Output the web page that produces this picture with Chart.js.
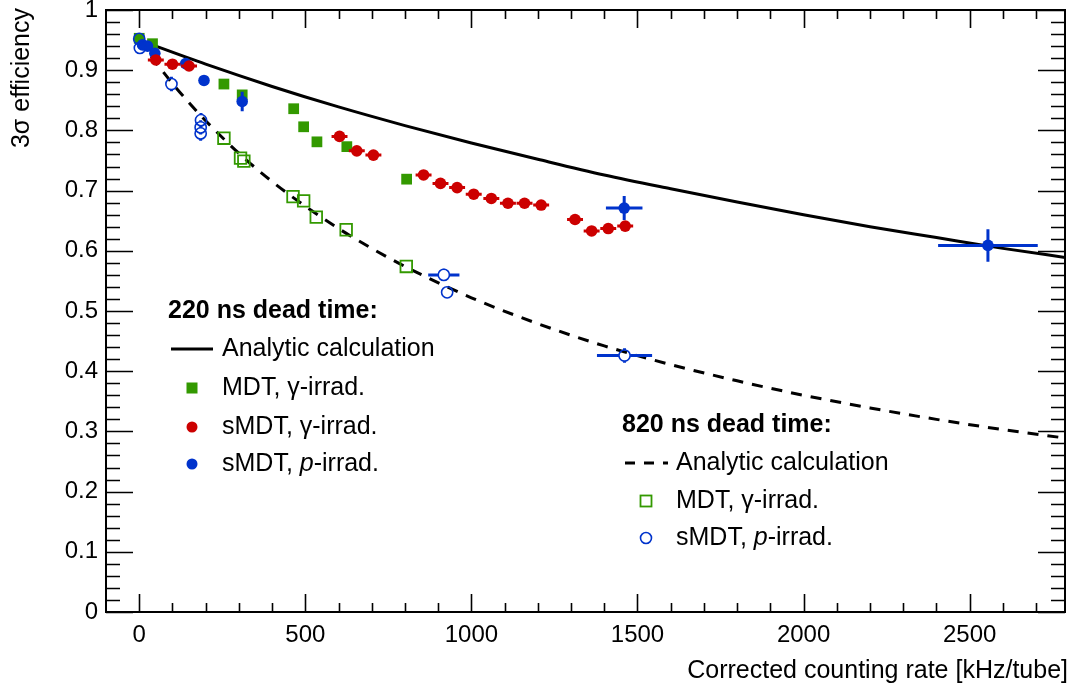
<!DOCTYPE html>
<html>
<head>
<meta charset="utf-8">
<title>3σ efficiency</title>
<script src="https://cdn.jsdelivr.net/npm/chart.js@4/dist/chart.umd.min.js"></script>
<style>
  html, body { margin: 0; padding: 0; background: #fff; }
  #wrap { width: 1075px; height: 693px; }
</style>
</head>
<body>
<div id="wrap"><canvas id="grafico" width="1075" height="693"></canvas></div>
<script>
// Ticks
const xTicks = [0, 500, 1000, 1500, 2000, 2500];
const yTicks = [0, 0.1, 0.2, 0.3, 0.4, 0.5, 0.6, 0.7, 0.8, 0.9, 1];

// Analytic calculation, 220 ns dead time
const calc220X = [0, 200, 400, 600, 800, 1000, 1200, 1400, 1600, 1800, 2000, 2200, 2400, 2600, 2800];
const calc220Y = [0.950, 0.910, 0.873, 0.839, 0.808, 0.779, 0.752, 0.726, 0.703, 0.681, 0.660, 0.640, 0.622, 0.604, 0.588];

// Analytic calculation, 820 ns dead time
const calc820X = [0, 50, 100, 150, 200, 300, 400, 500, 600, 700, 800, 1000, 1200, 1400, 1600, 1800, 2000, 2200, 2400, 2600, 2800];
const calc820Y = [0.950, 0.913, 0.878, 0.846, 0.816, 0.762, 0.715, 0.674, 0.637, 0.604, 0.574, 0.522, 0.479, 0.442, 0.411, 0.384, 0.360, 0.339, 0.320, 0.303, 0.288];

// 220 ns: MDT, gamma-irrad.
const mdtGammaX = [0, 40, 255, 310, 465, 495, 535, 625, 805];
const mdtGammaY = [0.953, 0.944, 0.877, 0.859, 0.836, 0.806, 0.781, 0.773, 0.719];

// 220 ns: sMDT, gamma-irrad.
const smdtGammaX = [50, 100, 150, 603, 655, 705, 856, 907, 957, 1007, 1060, 1110, 1160, 1210, 1312, 1362, 1412, 1463];
const smdtGammaY = [0.917, 0.910, 0.907, 0.790, 0.766, 0.759, 0.726, 0.712, 0.705, 0.694, 0.687, 0.679, 0.679, 0.676, 0.652, 0.633, 0.637, 0.641];
const smdtGammaXErr = [24, 24, 24, 24, 24, 24, 24, 24, 24, 24, 24, 24, 24, 24, 24, 24, 24, 24];

// 220 ns: sMDT, p-irrad.
const smdtProtonX = [10, 25, 47, 140, 195, 310, 1460, 2555];
const smdtProtonY = [0.942, 0.940, 0.928, 0.911, 0.883, 0.848, 0.671, 0.609];
const smdtProtonXErr = [0, 0, 0, 0, 0, 0, 55, 150];
const smdtProtonYErr = [0, 0, 0, 0, 0, 0.016, 0.020, 0.027];

// 820 ns: MDT, gamma-irrad.
const mdtGamma820X = [255, 305, 315, 463, 495, 533, 623, 804];
const mdtGamma820Y = [0.787, 0.754, 0.749, 0.690, 0.683, 0.656, 0.635, 0.574];

// 820 ns: sMDT, p-irrad.
const smdtProton820X = [0, 2, 97, 186, 185, 185, 917, 927, 1461];
const smdtProton820Y = [0.952, 0.937, 0.877, 0.817, 0.805, 0.795, 0.560, 0.531, 0.426];
const smdtProton820XErr = [0, 0, 0, 0, 0, 0, 47, 0, 83];
const smdtProton820YErr = [0, 0, 0.012, 0.012, 0.012, 0.012, 0.010, 0, 0.012];

const VERDE = "#339900";
const ROJO = "#cc0000";
const AZUL = "#0033cc";
const FUENTE = "'Liberation Sans', Arial, Helvetica, sans-serif";

const puntos = (xs, ys) => xs.map((x, i) => ({ x: x, y: ys[i] }));

// Error bars, drawn just before the markers of each dataset
const barrasPlugin = {
  id: "barras",
  beforeDatasetDraw(chart, args) {
    const ds = chart.data.datasets[args.index];
    if (!ds.errX && !ds.errY) return;
    const ctx = chart.ctx;
    const sx = chart.scales.x;
    const sy = chart.scales.y;
    const gap = ds.errGap || 0;
    ctx.save();
    ctx.strokeStyle = ds.borderColor;
    ctx.lineWidth = 3;
    ds.data.forEach((p, i) => {
      const cx = sx.getPixelForValue(p.x);
      const cy = sy.getPixelForValue(p.y);
      const ex = ds.errX ? ds.errX[i] : 0;
      const ey = ds.errY ? ds.errY[i] : 0;
      ctx.beginPath();
      if (ex) {
        const l = sx.getPixelForValue(p.x - ex);
        const r = sx.getPixelForValue(p.x + ex);
        if (cx - gap > l) { ctx.moveTo(l, cy); ctx.lineTo(cx - gap, cy); }
        if (r > cx + gap) { ctx.moveTo(cx + gap, cy); ctx.lineTo(r, cy); }
      }
      if (ey) {
        const t = sy.getPixelForValue(p.y + ey);
        const b = sy.getPixelForValue(p.y - ey);
        if (cy - gap > t) { ctx.moveTo(cx, t); ctx.lineTo(cx, cy - gap); }
        if (b > cy + gap) { ctx.moveTo(cx, cy + gap); ctx.lineTo(cx, b); }
      }
      ctx.stroke();
    });
    ctx.restore();
  },
};

// Frame, inner ticks, axis titles and the two legends
const marcoPlugin = {
  id: "marco",
  afterDatasetsDraw(chart) {
    const ctx = chart.ctx;
    const a = chart.chartArea;
    const sx = chart.scales.x;
    const sy = chart.scales.y;
    ctx.save();
    ctx.strokeStyle = "#000";
    ctx.lineWidth = 2;
    ctx.strokeRect(a.left, a.top, a.right - a.left, a.bottom - a.top);

    // x ticks (bottom and top)
    ctx.beginPath();
    for (let v = -100; v <= sx.max; v += 100) {
      const px = Math.round(sx.getPixelForValue(v)) + 0.5;
      if (px < a.left + 1 || px > a.right - 1) continue;
      const len = v % 500 === 0 ? 18 : 9;
      ctx.moveTo(px, a.bottom); ctx.lineTo(px, a.bottom - len);
      ctx.moveTo(px, a.top); ctx.lineTo(px, a.top + len);
    }
    // y ticks (left and right)
    for (let k = 0; k <= 50; k++) {
      const py = Math.round(sy.getPixelForValue(k * 0.02)) + 0.5;
      const len = k % 5 === 0 ? 27 : 14;
      ctx.moveTo(a.left, py); ctx.lineTo(a.left + len, py);
      ctx.moveTo(a.right, py); ctx.lineTo(a.right - len, py);
    }
    ctx.lineWidth = 1.6;
    ctx.stroke();

    // axis titles
    ctx.fillStyle = "#000";
    ctx.font = "25px " + FUENTE;
    ctx.textBaseline = "middle";
    ctx.textAlign = "right";
    ctx.fillText("Corrected counting rate [kHz/tube]", 1068, 671);
    ctx.save();
    ctx.translate(22, 8);
    ctx.rotate(-Math.PI / 2);
    ctx.fillText("3σ efficiency", 0, 0);
    ctx.restore();

    // legends
    const texto = (partes, x, y) => {
      let cx = x;
      ctx.textAlign = "left";
      partes.forEach(([t, f]) => {
        ctx.font = f + "25px " + FUENTE;
        ctx.fillText(t, cx, y);
        cx += ctx.measureText(t).width;
      });
    };
    const titulo = (t, x, y) => {
      ctx.textAlign = "left";
      ctx.font = "bold 25px " + FUENTE;
      ctx.fillText(t, x, y);
    };
    const linea = (x1, x2, y, dash) => {
      ctx.save();
      ctx.strokeStyle = "#000";
      ctx.lineWidth = 3;
      ctx.setLineDash(dash);
      ctx.beginPath(); ctx.moveTo(x1, y); ctx.lineTo(x2, y); ctx.stroke();
      ctx.restore();
    };
    const cuadrado = (x, y, lleno, color) => {
      ctx.save();
      if (lleno) { ctx.fillStyle = color; ctx.fillRect(x - 5.5, y - 5.5, 11, 11); }
      else { ctx.strokeStyle = color; ctx.lineWidth = 1.8; ctx.strokeRect(x - 5.5, y - 5.5, 11, 11); }
      ctx.restore();
    };
    const circulo = (x, y, lleno, color) => {
      ctx.save();
      ctx.beginPath(); ctx.arc(x, y, 5.5, 0, Math.PI * 2);
      if (lleno) { ctx.fillStyle = color; ctx.fill(); }
      else { ctx.strokeStyle = color; ctx.lineWidth = 1.6; ctx.stroke(); }
      ctx.restore();
    };

    titulo("220 ns dead time:", 168, 311);
    linea(171, 213, 349, []);
    texto([["Analytic calculation", ""]], 222, 349);
    cuadrado(192, 388, true, VERDE);
    texto([["MDT, γ-irrad.", ""]], 222, 388);
    circulo(192, 427, true, ROJO);
    texto([["sMDT, γ-irrad.", ""]], 222, 427);
    circulo(192, 464, true, AZUL);
    texto([["sMDT, ", ""], ["p", "italic "], ["-irrad.", ""]], 222, 464);

    titulo("820 ns dead time:", 622, 425);
    linea(625, 668, 463, [10, 9]);
    texto([["Analytic calculation", ""]], 676, 463);
    cuadrado(646, 501, false, VERDE);
    texto([["MDT, γ-irrad.", ""]], 676, 501);
    circulo(646, 538, false, AZUL);
    texto([["sMDT, ", ""], ["p", "italic "], ["-irrad.", ""]], 676, 538);

    ctx.restore();
  },
};

new Chart(document.getElementById("grafico"), {
  type: "scatter",
  data: {
    datasets: [
      {
        label: "Analytic calculation (220 ns)",
        data: puntos(calc220X, calc220Y),
        showLine: true,
        borderColor: "#000",
        borderWidth: 3,
        pointRadius: 0,
        cubicInterpolationMode: "monotone",
        order: 10,
      },
      {
        label: "Analytic calculation (820 ns)",
        data: puntos(calc820X, calc820Y),
        showLine: true,
        borderColor: "#000",
        borderWidth: 3,
        borderDash: [11, 9],
        pointRadius: 0,
        cubicInterpolationMode: "monotone",
        order: 9,
      },
      {
        label: "MDT, γ-irrad. (220 ns)",
        data: puntos(mdtGammaX, mdtGammaY),
        pointStyle: "rect",
        pointRadius: 7.6,
        backgroundColor: VERDE,
        borderColor: VERDE,
        borderWidth: 0,
        order: 6,
      },
      {
        label: "sMDT, p-irrad. (220 ns)",
        data: puntos(smdtProtonX, smdtProtonY),
        errX: smdtProtonXErr,
        errY: smdtProtonYErr,
        pointStyle: "circle",
        pointRadius: 5.8,
        backgroundColor: AZUL,
        borderColor: AZUL,
        borderWidth: 0,
        order: 5,
      },
      {
        label: "sMDT, γ-irrad. (220 ns)",
        data: puntos(smdtGammaX, smdtGammaY),
        errX: smdtGammaXErr,
        pointStyle: "circle",
        pointRadius: 5.8,
        backgroundColor: ROJO,
        borderColor: ROJO,
        borderWidth: 0,
        order: 4,
      },
      {
        label: "MDT, γ-irrad. (820 ns)",
        data: puntos(mdtGamma820X, mdtGamma820Y),
        pointStyle: "rect",
        pointRadius: 8.2,
        backgroundColor: "rgba(0,0,0,0)",
        borderColor: VERDE,
        borderWidth: 1.8,
        order: 3,
      },
      {
        label: "sMDT, p-irrad. (820 ns)",
        data: puntos(smdtProton820X, smdtProton820Y),
        errX: smdtProton820XErr,
        errY: smdtProton820YErr,
        errGap: 5.6,
        pointStyle: "circle",
        pointRadius: 5.6,
        backgroundColor: "rgba(0,0,0,0)",
        borderColor: AZUL,
        borderWidth: 1.6,
        order: 2,
      },
    ],
  },
  options: {
    responsive: false,
    devicePixelRatio: 1,
    animation: false,
    events: [],
    layout: { padding: { left: 0, right: 9, top: 10, bottom: 0 } },
    plugins: {
      legend: { display: false },
      tooltip: { enabled: false },
    },
    scales: {
      x: {
        type: "linear",
        min: -100,
        max: 2787,
        grid: { display: false, drawTicks: false },
        border: { display: false },
        afterBuildTicks: (s) => { s.ticks = xTicks.map((v) => ({ value: v })); },
        afterFit: (s) => { s.height = 81; s.paddingLeft = 0; s.paddingRight = 0; },
        ticks: {
          padding: 9,
          color: "#000",
          font: { family: FUENTE, size: 24 },
          maxRotation: 0,
          callback: (v) => String(v),
        },
      },
      y: {
        type: "linear",
        min: 0,
        max: 1,
        grid: { display: false, drawTicks: false },
        border: { display: false },
        afterBuildTicks: (s) => { s.ticks = yTicks.map((v) => ({ value: v })); },
        afterFit: (s) => { s.width = 106; s.paddingTop = 0; s.paddingBottom = 0; },
        ticks: {
          padding: 8,
          color: "#000",
          font: { family: FUENTE, size: 24 },
          callback: (v) => String(Math.round(v * 10) / 10),
        },
      },
    },
  },
  plugins: [barrasPlugin, marcoPlugin],
});
</script>
</body>
</html>
